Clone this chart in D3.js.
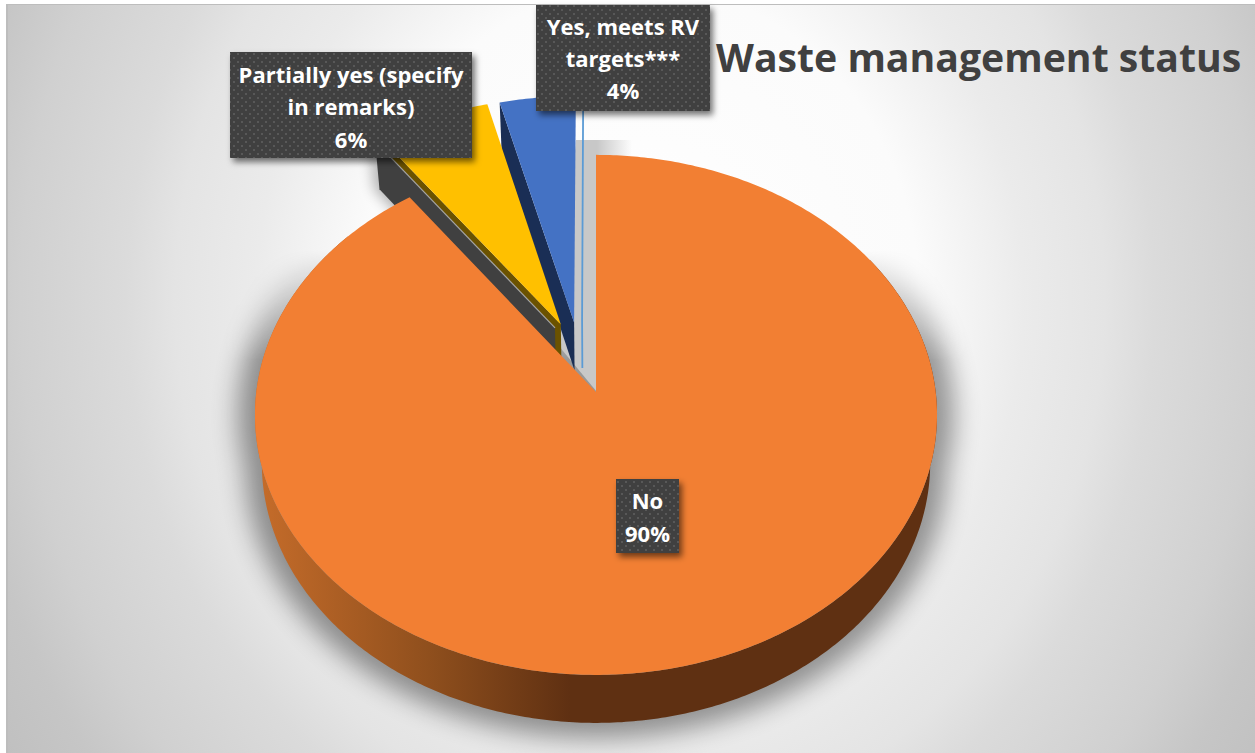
<!DOCTYPE html>
<html><head><meta charset="utf-8">
<script src="https://cdnjs.cloudflare.com/ajax/libs/d3/7.8.5/d3.min.js"></script>
<style>html,body{margin:0;padding:0;background:#fff}svg{display:block}</style>
</head><body><svg id="c" width="1255" height="753"></svg>
<script>
const title = "Waste management status";
const categories = ["No", "Not applicable", "Partially yes (specify in remarks)", "Yes, meets RV targets***", "Not reported"];
const percents = [90, 0, 6, 4, 0];
const colors = ["#f27f33", "#a5a5a5", "#ffc000", "#4472c4", "#5b9bd5"];
const wallColors = ["#5f3012", "#404040", "#6b5200", "#1a2e55", "#5b9bd5"];
const explodeU = [0, -0.1234, -0.106, -0.066, -0.042];
const explodeV = [0, -0.254, -0.268, -0.276, -0.286];
const labelLines = [["No", "90%"], null, ["Partially yes (specify", "in remarks)", "6%"], ["Yes, meets RV", "targets***", "4%"], null];
const labelBoxes = [
  {x:616,y:479,w:63,h:74,base:[509,542]}, null,
  {x:230,y:52,w:242,h:106,base:[83,115,148]},
  {x:536,y:5,w:174,h:106,base:[35,67,99]}, null];

const W=1255,H=753, cx=596, cy=392, R=339.7, S=258, P=0.088, DEPTH=48, SHRINK=0.98;
const svg=d3.select("#c"), defs=svg.append("defs");

const bg=defs.append("radialGradient").attr("id","bg").attr("gradientUnits","userSpaceOnUse")
  .attr("cx",0).attr("cy",0).attr("r",1)
  .attr("gradientTransform","translate(640,300) scale(750,847)");
[[0,"#ffffff"],[.372,"#fbfbfb"],[.512,"#ebebeb"],[.62,"#e4e4e4"],[.686,"#dbdbdb"],[.826,"#d0d0d0"],[.909,"#c6c6c6"],[1,"#c0c0c0"]]
  .forEach(s=>bg.append("stop").attr("offset",s[0]).attr("stop-color",s[1]));
const wallG=defs.append("linearGradient").attr("id","wall").attr("gradientUnits","userSpaceOnUse")
  .attr("x1",258).attr("x2",570).attr("y1",0).attr("y2",0);
[[0,"#c56c2a"],[.55,"#8f4f1d"],[1,"#5f3012"]].forEach(s=>wallG.append("stop").attr("offset",s[0]).attr("stop-color",s[1]));
const fade=defs.append("linearGradient").attr("id","fade").attr("gradientUnits","userSpaceOnUse")
  .attr("x1",597).attr("x2",632).attr("y1",0).attr("y2",0);
fade.append("stop").attr("offset",0).attr("stop-color","#c8c8c8");
fade.append("stop").attr("offset",1).attr("stop-color","#c8c8c8").attr("stop-opacity",0);
const maskG=defs.append("linearGradient").attr("id","mg").attr("gradientUnits","userSpaceOnUse")
  .attr("x1",0).attr("x2",0).attr("y1",250).attr("y2",360);
maskG.append("stop").attr("offset",0).attr("stop-color","#000");
maskG.append("stop").attr("offset",1).attr("stop-color","#fff");
defs.append("mask").attr("id","sm").attr("maskUnits","userSpaceOnUse").attr("x",0).attr("y",0).attr("width",W).attr("height",H)
  .append("rect").attr("width",W).attr("height",H).attr("fill","url(#mg)");
defs.append("filter").attr("id","blur").attr("x","-20%").attr("y","-20%").attr("width","140%").attr("height","140%")
  .append("feGaussianBlur").attr("stdDeviation",12);
defs.append("filter").attr("id","blur2").attr("x","-50%").attr("y","-50%").attr("width","200%").attr("height","200%")
  .append("feGaussianBlur").attr("stdDeviation",7);
const ls=defs.append("filter").attr("id","ls").attr("x","-20%").attr("y","-20%").attr("width","140%").attr("height","140%");
ls.append("feDropShadow").attr("dx",3).attr("dy",4).attr("stdDeviation",3).attr("flood-color","#000").attr("flood-opacity",.55);
const pat=defs.append("pattern").attr("id","dots").attr("patternUnits","userSpaceOnUse").attr("width",8).attr("height",8);
pat.append("rect").attr("width",8).attr("height",8).attr("fill","#404040");
[[1,1],[5,5]].forEach(p=>pat.append("rect").attr("x",p[0]).attr("y",p[1]).attr("width",2).attr("height",2).attr("fill","#595959"));

svg.append("rect").attr("width",W).attr("height",H).attr("fill","#fff");
svg.append("rect").attr("x",6).attr("y",4).attr("width",W-6).attr("height",H-4).attr("fill","url(#bg)");
svg.append("rect").attr("x",6).attr("y",4).attr("width",W-6).attr("height",1).attr("fill","#bdbdbd");
svg.append("rect").attr("x",6).attr("y",4).attr("width",2).attr("height",H-4).attr("fill","#bdbdbd");

const arcs=d3.pie().sort(null).value(d=>d)(percents);
function proj(u,v,low){
  const w=1-P*v; let X=R*u/w, Y=S*v/w;
  if(low){X*=SHRINK;Y+=DEPTH;}
  return [cx+X,cy+Y];
}
const rim=(i,a,low)=>proj(explodeU[i]+Math.sin(a),explodeV[i]-Math.cos(a),low);
const apex=(i,low)=>proj(explodeU[i],explodeV[i],low);
const line=d3.line();
const samples=(a0,a1)=>{const n=Math.max(2,Math.ceil(Math.abs(a1-a0)*90));return d3.range(n+1).map(k=>a0+(a1-a0)*k/n);};
const faceD=i=>line([apex(i,false),...samples(arcs[i].startAngle,arcs[i].endAngle).map(a=>rim(i,a,false))])+"Z";

// soft ground shadow of the pie, fading out towards the back
const g0=svg.append("g").attr("mask","url(#sm)").append("g").attr("filter","url(#blur)").attr("opacity",.4).attr("fill","#000")
  .attr("transform","translate(596,425) scale(1.05) translate(-596,-425)");
const ringAngles=samples(0,Math.PI*2);
g0.append("path").attr("d",line(ringAngles.map(a=>rim(0,a,false)))+"Z");
g0.append("path").attr("d",line(ringAngles.map(a=>rim(0,a,true)))+"Z");
// soft shadow near the exploded dark slice
svg.append("path").attr("d",line([rim(1,arcs[1].startAngle,false),rim(1,arcs[1].startAngle,true),apex(1,true)])+"Z")
  .attr("fill","#000").attr("opacity",.3).attr("filter","url(#blur2)").attr("transform","translate(-5,0)");
// hard shadow strip beside the first slice's leading edge
const stripTop=140;
svg.append("path").attr("d",line([[576,stripTop],[597,stripTop],[597,cy],[558,345],[558,325]])+"Z").attr("fill","#c8c8c8");
svg.append("rect").attr("x",597).attr("y",stripTop).attr("width",35).attr("height",24).attr("fill","url(#fade)");

// exploded slices, back to front
function sideWall(i,a){
  return line([rim(i,a,false),apex(i,false),apex(i,true),rim(i,a,true)])+"Z";
}
[4,3,2,1].forEach(i=>{
  if(i===4){
    svg.append("path").attr("d",line([rim(i,0,false),apex(i,false),apex(i,true)])).attr("fill","none").attr("stroke",colors[i]).attr("stroke-width",1.8);
    return;
  }
  svg.append("path").attr("d",sideWall(i,arcs[i].startAngle)).attr("fill",wallColors[i]);
  if(percents[i]>0) svg.append("path").attr("d",faceD(i)).attr("fill",colors[i]);
  else svg.append("path").attr("d",line([rim(i,arcs[i].startAngle,false),apex(i,false)])).attr("stroke",colors[i]).attr("stroke-width",1.2).attr("fill","none");
});

// main slice: wall then top face
const wallAngles=samples(Math.PI*0.32,Math.PI*1.72);
svg.append("path").attr("d",line([...wallAngles.map(a=>rim(0,a,false)),...wallAngles.slice().reverse().map(a=>rim(0,a,true))])+"Z").attr("fill","url(#wall)");
svg.append("path").attr("d",faceD(0)).attr("fill",colors[0]);

// data labels
labelLines.forEach((lines,i)=>{
  if(!lines) return;
  const b=labelBoxes[i], g=svg.append("g");
  g.append("rect").attr("x",b.x).attr("y",b.y).attr("width",b.w).attr("height",b.h).attr("fill","url(#dots)").attr("filter","url(#ls)");
  lines.forEach((t,k)=>g.append("text").attr("x",b.x+b.w/2).attr("y",b.base[k]).attr("text-anchor","middle")
    .attr("font-family","'Open Sans',sans-serif").attr("font-weight",700).attr("font-size",22).attr("fill","#fff").text(t));
});
svg.append("text").attr("x",716).attr("y",72).attr("font-family","'Open Sans',sans-serif").attr("font-weight",700)
  .attr("font-size",39.2).attr("fill","#404040").text(title);
</script></body></html>
